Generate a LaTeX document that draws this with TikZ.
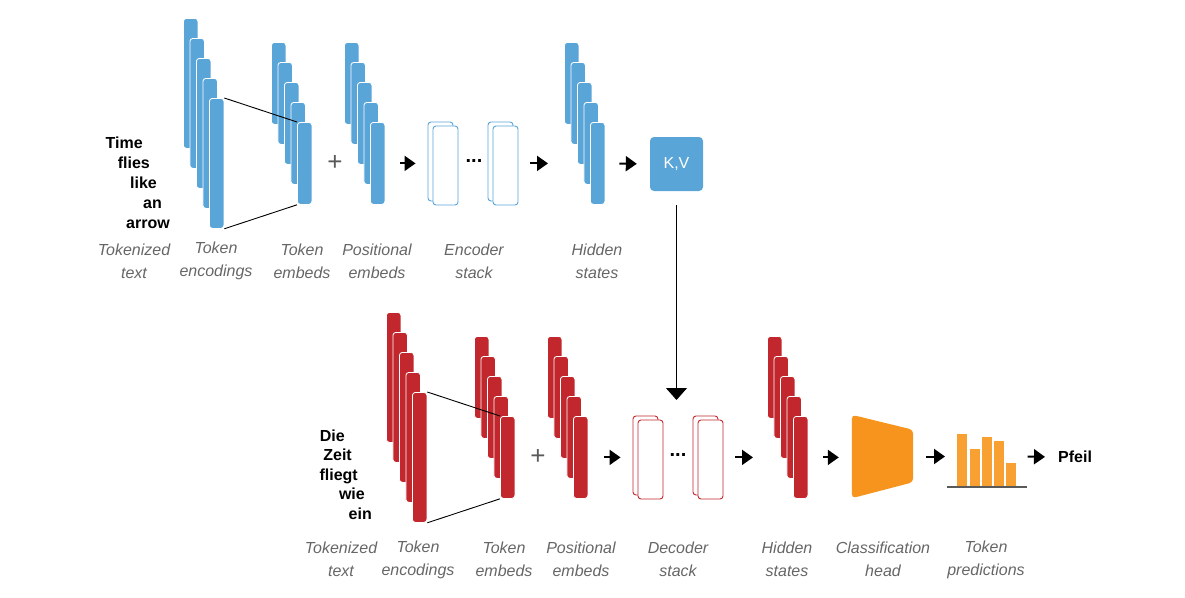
\documentclass[tikz,border=0pt]{standalone}
\usepackage{fontspec}
\setmainfont{Liberation Sans}
\usepackage{xcolor}
\usepackage{tikz}
\usetikzlibrary{arrows.meta, positioning, calc}
\definecolor{encblue}{HTML}{5AA5D8}
\definecolor{decred}{HTML}{C1272D}
\definecolor{headorange}{HTML}{F7941D}
\definecolor{predorange}{HTML}{F9A033}
\definecolor{labelgray}{HTML}{666666}
\definecolor{basegray}{HTML}{5A5A5A}

\begin{document}
\begin{tikzpicture}[x=1pt, y=-1pt,
  bar/.style={draw=white, line width=0.8pt, rounded corners=3pt, minimum width=14.5pt,
              inner sep=0pt, anchor=north west},
  layerbox/.style={fill=white, line width=0.9pt, rounded corners=3pt, minimum width=25pt,
                   minimum height=79pt, inner sep=0pt},
  lbl/.style={font=\fontsize{16}{23}\selectfont\itshape, text=labelgray, align=center},
  word/.style={font=\fontsize{16}{20}\selectfont\bfseries, inner sep=0pt, anchor=base east},
  plus/.style={font=\fontsize{26}{26}\selectfont, text=basegray, inner sep=0pt},
  dots/.style={font=\fontsize{20}{20}\selectfont\bfseries, inner sep=0pt},
  arr/.style={-{Triangle[length=11pt, width=15pt]}, line width=2pt},
  down/.style={-{Triangle[length=12pt, width=21pt]}, line width=1pt},
]
  \useasboundingbox (0,0) rectangle (1185,597);

  % encoder row
  \node[word] (w1) at (143,148) {Time};
  \node[word] (w2) at (150,168) {flies};
  \node[word] (w3) at (157,188) {like};
  \node[word] (w4) at (162,208) {an};
  \node[word] (w5) at (170,228) {arrow};

  \foreach \i in {1,...,5}
    \node[bar, fill=encblue, minimum height=130pt] (etok\i) at ({183+6.5*(\i-1)}, {18+20*(\i-1)}) {};
  \foreach \i in {1,...,5}
    \node[bar, fill=encblue, minimum height=82pt] (eemb\i) at ({271+6.5*(\i-1)}, {42+20*(\i-1)}) {};
  \draw[line width=0.9pt] (etok5.north east) -- (eemb5.north west);
  \draw[line width=0.9pt] (etok5.south east) -- (eemb5.south west);

  \node[plus] (plus1) at (335,163) {+};

  \foreach \i in {1,...,5}
    \node[bar, fill=encblue, minimum height=82pt] (epos\i) at ({344+6.5*(\i-1)}, {42+20*(\i-1)}) {};

  \node[layerbox, draw=encblue] (encAback) at (440.5,161.5) {};
  \node[layerbox, draw=encblue] (encA) at (445.5,165.5) {};
  \node[dots] (edots) at (474,161) {...};
  \node[layerbox, draw=encblue] (encBback) at (500.5,161.5) {};
  \node[layerbox, draw=encblue] (encB) at (505.5,165.5) {};

  \foreach \i in {1,...,5}
    \node[bar, fill=encblue, minimum height=82pt] (ehid\i) at ({564+6.5*(\i-1)}, {42+20*(\i-1)}) {};

  \node[fill=encblue, rounded corners=4pt, minimum width=53pt, minimum height=54pt,
        text=white, font=\fontsize{16}{16}\selectfont] (kv) at (676.5,164) {K,V};

  \draw[arr, shorten <=15pt, shorten >=12pt] (epos5.east) -- (epos5.east -| encAback.west);
  \draw[arr, shorten <=12pt, shorten >=16pt] (encB.east |- epos5.east) -- (epos5.east -| ehid1.west);
  \draw[arr, shorten <=14pt, shorten >=13pt] (ehid5.east) -- (kv.west);

  \node[lbl] (l1) at (134,261) {Tokenized\\text};
  \node[lbl] (l2) at (216,261) {Token\\encodings};
  \node[lbl] (l3) at (302,261) {Token\\embeds};
  \node[lbl] (l4) at (377,261) {Positional\\embeds};
  \node[lbl] (l5) at (474,261) {Encoder\\stack};
  \node[lbl] (l6) at (597,261) {Hidden\\states};

  % decoder row
  \coordinate (kvin) at (676.5,400);
  \draw[down, shorten <=14pt] (kv.south) -- (kvin);

  \node[word] (g1) at (345,441) {Die};
  \node[word] (g2) at (352,460.5) {Zeit};
  \node[word] (g3) at (358,480) {fliegt};
  \node[word] (g4) at (365,499.5) {wie};
  \node[word] (g5) at (372,519) {ein};

  \foreach \i in {1,...,5}
    \node[bar, fill=decred, minimum height=130pt] (dtok\i) at ({386+6.5*(\i-1)}, {312+20*(\i-1)}) {};
  \foreach \i in {1,...,5}
    \node[bar, fill=decred, minimum height=82pt] (demb\i) at ({474+6.5*(\i-1)}, {336+20*(\i-1)}) {};
  \draw[line width=0.9pt] (dtok5.north east) -- (demb5.north west);
  \draw[line width=0.9pt] (dtok5.south east) -- (demb5.south west);

  \node[plus] (plus2) at (538,457) {+};

  \foreach \i in {1,...,5}
    \node[bar, fill=decred, minimum height=82pt] (dpos\i) at ({547+6.5*(\i-1)}, {336+20*(\i-1)}) {};

  \node[layerbox, draw=decred] (decAback) at (645.5,455.5) {};
  \node[layerbox, draw=decred] (decA) at (650.5,459.5) {};
  \node[dots] (ddots) at (678,455) {...};
  \node[layerbox, draw=decred] (decBback) at (705.5,455.5) {};
  \node[layerbox, draw=decred] (decB) at (710.5,459.5) {};

  \foreach \i in {1,...,5}
    \node[bar, fill=decred, minimum height=82pt] (dhid\i) at ({767+6.5*(\i-1)}, {336+20*(\i-1)}) {};

  \node[inner sep=0pt, minimum width=61pt, minimum height=83pt] (head) at (882.5,456.5) {};
  \fill[headorange, rounded corners=4pt] (head.north west) -- ($(head.north east)+(0,15)$)
    -- ($(head.south east)+(0,-16)$) -- (head.south west) -- cycle;

  \foreach \i/\h in {1/53, 2/38, 3/50, 4/46, 5/24}
    \node[fill=predorange, inner sep=0pt, minimum width=10pt, minimum height=\h pt,
          anchor=south west] (p\i) at ({957+12.3*(\i-1)}, 487) {};
  \draw[basegray, line width=2pt] ($(p1.south west)+(-10,0)$) -- ($(p5.south east)+(10,0)$);

  \node[font=\fontsize{16}{16}\selectfont\bfseries, anchor=west, inner sep=3pt] (pfeil) at (1055,457) {Pfeil};

  \draw[arr, shorten <=16pt, shorten >=12pt] (dpos5.east) -- (dpos5.east -| decAback.west);
  \draw[arr, shorten <=12pt, shorten >=14pt] (decB.east |- dpos5.east) -- (dpos5.east -| dhid1.west);
  \draw[arr, shorten <=15pt, shorten >=13pt] (dhid5.east) -- (dhid5.east -| head.west);
  \draw[arr, shorten <=13pt, shorten >=12pt] (head.east) -- (head.east -| p1.west);
  \draw[arr, shorten <=11pt, shorten >=10pt] (head.east -| p5.east) -- (pfeil.west);

  \node[lbl] (m1) at (341,559.5) {Tokenized\\text};
  \node[lbl] (m2) at (418,559.5) {Token\\encodings};
  \node[lbl] (m3) at (504,559.5) {Token\\embeds};
  \node[lbl] (m4) at (581,559.5) {Positional\\embeds};
  \node[lbl] (m5) at (678,559.5) {Decoder\\stack};
  \node[lbl] (m6) at (787,559.5) {Hidden\\states};
  \node[lbl] (m7) at (883,559.5) {Classification\\head};
  \node[lbl] (m8) at (986,559.5) {Token\\predictions};
\end{tikzpicture}
\end{document}
